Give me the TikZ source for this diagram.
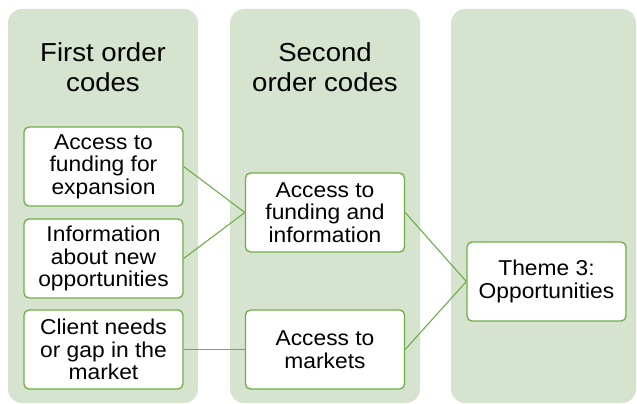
\documentclass[tikz,border=0pt]{standalone}
\usepackage{fontspec}
\setmainfont{Liberation Sans}[FakeStretch=1.06]
\definecolor{panelfill}{RGB}{213,227,207}
\definecolor{edgegreen}{RGB}{112,173,71}
\begin{document}
\begin{tikzpicture}[x=1pt,y=-1pt,
  panel/.style={fill=panelfill,draw=none,rounded corners=14pt},
  codebox/.style={draw=edgegreen,line width=1.3pt,fill=white,rounded corners=5pt,
    minimum width=159pt,minimum height=79pt,inner sep=0pt,align=center,
    font=\fontsize{21.5}{22.5}\selectfont},
  heading/.style={align=center,inner sep=0pt,font=\fontsize{26}{30}\selectfont},
  link/.style={draw=edgegreen,line width=1.1pt}]
\useasboundingbox (0,0) rectangle (637,404);
\fill[white] (0,0) rectangle (637,404);
\path[panel] (8,9) rectangle (198,403);
\path[panel] (230,9) rectangle (420,403);
\path[panel] (451,9) rectangle (636,403);
\node[heading] (h1) at (103,67) {First order\\codes};
\node[heading] (h2) at (325,67) {Second\\order codes};
\node[codebox] (b1) at (103.5,166.5) {Access to\\funding for\\expansion};
\node[codebox] (b2) at (103.5,258.5) {Information\\about new\\opportunities};
\node[codebox] (b3) at (103.5,349.5) {Client needs\\or gap in the\\market};
\node[codebox] (b4) at (325,212.5) {Access to\\funding and\\information};
\node[codebox] (b5) at (325,349.5) {Access to\\markets};
\node[codebox] (b6) at (546.5,281.5) {Theme 3:\\Opportunities};
\draw[link] (b1.east) -- (b4.west);
\draw[link] (b2.east) -- (b4.west);
\draw[link] (b3.east) -- (b5.west);
\draw[link] (b4.east) -- (b6.west);
\draw[link] (b5.east) -- (b6.west);
\end{tikzpicture}
\end{document}
